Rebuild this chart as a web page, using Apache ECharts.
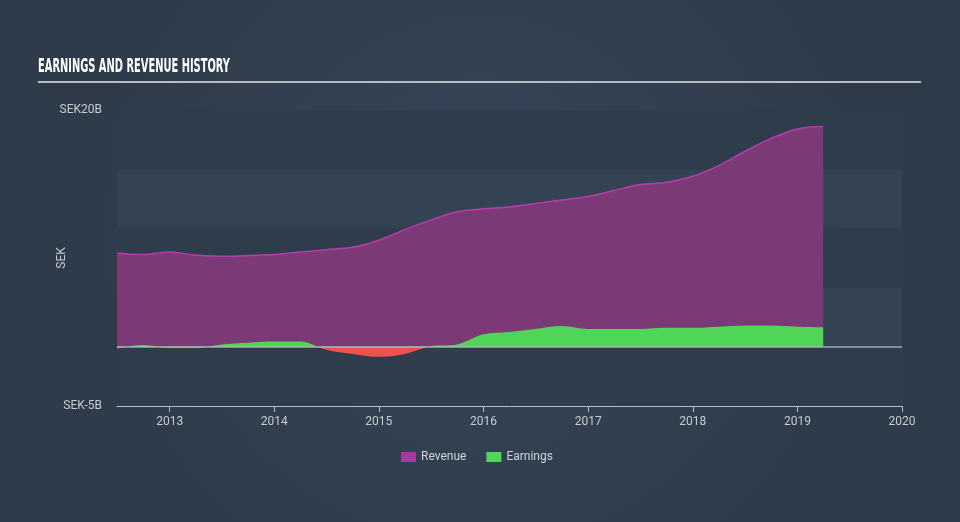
<!DOCTYPE html>
<html>
<head>
<meta charset="utf-8">
<script src="https://cdn.jsdelivr.net/npm/echarts@6/dist/echarts.min.js"></script>
<style>
html,body{margin:0;padding:0;width:960px;height:522px;overflow:hidden;}
#c{width:960px;height:522px;}
</style>
</head>
<body>
<div id="c"></div>
<script>
const dates = ['2012-07-01','2012-10-01','2013-01-01','2013-04-01','2013-07-01','2013-10-01',
  '2014-01-01','2014-04-01','2014-07-01','2014-10-01','2015-01-01','2015-04-01','2015-07-01','2015-10-01',
  '2016-01-01','2016-04-01','2016-07-01','2016-10-01','2017-01-01','2017-04-01','2017-07-01','2017-10-01',
  '2018-01-01','2018-04-01','2018-07-01','2018-10-01','2019-01-01','2019-04-01'];
const revenue = [7.9,7.8,8.0,7.75,7.65,7.7,7.8,8.0,8.2,8.4,9.0,9.9,10.7,11.4,11.65,11.8,12.1,12.4,12.7,13.2,13.7,13.9,14.4,15.3,16.5,17.6,18.4,18.6];
const earnings = [-0.15,0.15,-0.1,-0.1,0.2,0.35,0.45,0.45,-0.25,-0.6,-0.85,-0.6,0.05,0.2,1.05,1.25,1.5,1.75,1.5,1.5,1.5,1.6,1.6,1.7,1.8,1.8,1.7,1.65];
const yTicks = [-5, 20];
const seriesNames = ['Revenue','Earnings'];
const titleText = 'EARNINGS AND REVENUE HISTORY';

const B = 1e9;
const revData = dates.map((d,i)=>[d, revenue[i]*B]);
const earnData = dates.map((d,i)=>[d, earnings[i]*B]);

const GREEN = '#50d558', RED = '#ef5050';

const titleFont = 'bold 20px "DejaVu Sans Condensed"';
const mctx = document.createElement('canvas').getContext('2d');
mctx.font = titleFont;
const tw = mctx.measureText(titleText).width || 300;
const titleScaleX = 192 / tw;

const chart = echarts.init(document.getElementById('c'), null, {renderer:'canvas'});
chart.setOption({
  backgroundColor: {
    type:'radial', x:0.5, y:0.45, r:0.75,
    colorStops:[{offset:0,color:'#36475a'},{offset:1,color:'#2e3b4a'}]
  },
  animation:false,
  graphic:[{
    type:'line', shape:{x1:38,y1:82,x2:921,y2:82},
    style:{stroke:'#b4bcc4', lineWidth:2}, silent:true
  },{
    type:'text', x:38, y:58, scaleX:titleScaleX, scaleY:0.95,
    style:{text:titleText, fill:'#ffffff', font:titleFont, textVerticalAlign:'top'},
    silent:true
  }],
  legend:{
    data:seriesNames, bottom:54, left:396,
    itemWidth:15, itemHeight:10, itemGap:20,
    icon:'rect',
    textStyle:{color:'#d0d4d8', fontSize:12, fontFamily:'Roboto'}
  },
  grid:{left:117, right:58, top:110, bottom:116},
  xAxis:{
    type:'time',
    min:'2012-07-01', max:'2020-01-01',
    interval: 365.25*24*3600*1000,
    axisLine:{onZero:false, lineStyle:{color:'#b4bcc4', width:1}},
    axisTick:{show:true, length:6, lineStyle:{color:'#b4bcc4'}},
    axisLabel:{color:'#c8ccd0', fontSize:12, fontFamily:'Roboto', margin:10, showMaxLabel:true,
      formatter:(v)=>String(new Date(v).getFullYear())},
    splitLine:{show:false}
  },
  yAxis:{
    type:'value', min:-5*B, max:20*B, interval:5*B,
    name:'SEK', nameLocation:'middle', nameGap:49, nameMoveOverlap:false,
    nameTextStyle:{color:'#c8ccd0', fontSize:12, fontFamily:'Roboto'},
    axisLine:{show:false}, axisTick:{show:false},
    splitLine:{show:false},
    splitArea:{show:true, areaStyle:{color:['#2e3c4c','#344354']}},
    axisLabel:{color:'#c8ccd0', fontSize:12, fontFamily:'Roboto', margin:15,
      formatter:(v)=>{ const b=Math.round(v/B); return yTicks.includes(b) ? 'SEK'+b+'B' : ''; }}
  },
  series:[
    {
      name:'Revenue', type:'line', data:revData, smooth:0.35, symbol:'none',
      color:'#a8399f',
      lineStyle:{color:'#b83cab', width:1.5},
      areaStyle:{color:'#7b3a76', opacity:1},
      z:2
    },
    {
      name:'Earnings', type:'line', data:earnData, smooth:0.35, symbol:'none',
      color:GREEN,
      lineStyle:{width:0},
      areaStyle:{color:GREEN, opacity:1},
      z:3,
      markLine:{
        silent:true, symbol:'none', label:{show:false},
        lineStyle:{color:'rgba(200,205,210,0.75)', type:'solid', width:1.5},
        data:[{yAxis:0}]
      }
    }
  ]
});

const y0 = chart.convertToPixel({yAxisIndex:0}, 0);
chart.setOption({
  series:[{}, {
    areaStyle:{
      color:{type:'linear', x:0, y:y0-1, x2:0, y2:y0+1, global:true,
        colorStops:[{offset:0,color:GREEN},{offset:0.5,color:GREEN},{offset:0.5,color:RED},{offset:1,color:RED}]}
    }
  }]
});
</script>
</body>
</html>
